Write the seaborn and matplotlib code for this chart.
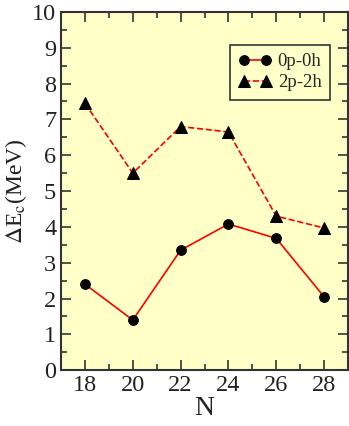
import matplotlib
matplotlib.use("Agg")
import matplotlib.pyplot as plt
import pandas as pd
import seaborn as sns
from matplotlib.ticker import MultipleLocator

# Data
neutrons = [18, 20, 22, 24, 26, 28]
e_0p0h = [2.40, 1.40, 3.35, 4.08, 3.68, 2.05]
e_2p2h = [7.45, 5.50, 6.80, 6.65, 4.30, 3.97]

df = pd.DataFrame({"N": neutrons * 2,
                   "dE": e_0p0h + e_2p2h,
                   "config": ["0p-0h"] * 6 + ["2p-2h"] * 6})

sns.set_theme(style="ticks")
plt.rcParams["font.family"] = ["Liberation Serif", "DejaVu Serif"]
plt.rcParams["mathtext.fontset"] = "stix"

fig = plt.figure(figsize=(3.49, 4.26), dpi=100)
ax = fig.add_axes([0.175, 0.131, 0.822, 0.841])
ax.set_facecolor("#ffffc8")

sns.lineplot(data=df[df["config"] == "0p-0h"], x="N", y="dE", ax=ax,
             color="red", linewidth=1.2, marker="o", markersize=7,
             markerfacecolor="black", markeredgecolor="black", label="0p-0h")
sns.lineplot(data=df[df["config"] == "2p-2h"], x="N", y="dE", ax=ax,
             color="red", linewidth=1.2, linestyle="--", dashes=(4, 3),
             marker="^", markersize=8, markerfacecolor="black",
             markeredgecolor="black", label="2p-2h")

ax.set_xlim(17, 29)
ax.set_ylim(0, 10)
ax.xaxis.set_major_locator(MultipleLocator(2))
ax.xaxis.set_minor_locator(MultipleLocator(1))
ax.yaxis.set_major_locator(MultipleLocator(1))
ax.yaxis.set_minor_locator(MultipleLocator(0.5))
ax.tick_params(which="both", direction="in", top=True, right=True,
               colors="#333333", labelcolor="#222222", width=1.2)
ax.tick_params(which="major", length=7, labelsize=17.5)
ax.tick_params(which="minor", length=4)
for s in ax.spines.values():
    s.set_linewidth(1.5)
    s.set_color("#333333")

ax.set_xlabel("N", fontsize=20, labelpad=0, color="#222222")
ax.set_ylabel(r"$\Delta$E$_\mathrm{c}$(MeV)", fontsize=17, labelpad=2,
              color="#222222")

leg = ax.legend(loc="upper right", bbox_to_anchor=(0.937, 0.908), fontsize=13.5,
                frameon=True, fancybox=False, edgecolor="#333333",
                framealpha=1, facecolor="#ffffc8", handlelength=1.8,
                numpoints=2, borderpad=0.45, labelspacing=0.2,
                handletextpad=0.3, borderaxespad=0)
leg.get_frame().set_linewidth(1.2)

fig.savefig("out.png", dpi=100)
